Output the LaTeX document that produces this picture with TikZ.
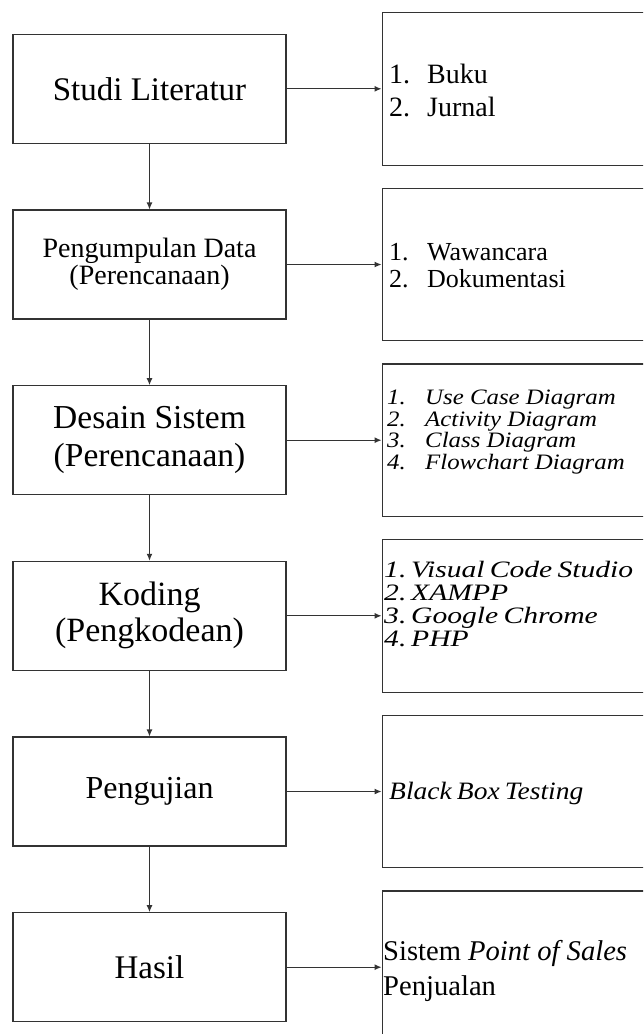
\documentclass[tikz,border=0pt]{standalone}
\usepackage{fontspec}
\setmainfont{Liberation Serif}
\newfontfamily\listserif[FakeStretch=1.13]{Liberation Serif}
\newfontfamily\toolserif[FakeStretch=1.26,WordSpace=0.7]{Liberation Serif}
\newfontfamily\testserif[FakeStretch=1.1,WordSpace=0.75]{Liberation Serif}
\usetikzlibrary{arrows.meta}

\newcommand{\numitem}[2]{\makebox[#1][l]{#2}}

\begin{document}
\begin{tikzpicture}[x=1pt,y=-1pt,
  stage/.style={draw=black!80, line width=1.1pt, minimum width=273pt,
    minimum height=109pt, inner sep=0pt, align=center},
  detail/.style={draw=black!80, line width=1.1pt, minimum width=330pt,
    minimum height=152.5pt, anchor=west, inner sep=0pt},
  flow/.style={draw=black!80, line width=1.1pt, -{Latex[length=7pt,width=6pt]}},
  itemtext/.style={anchor=west, inner sep=0pt, align=left}]

  \useasboundingbox (0,0) rectangle (643,1034);
  \clip (0,0) rectangle (643,1034);
  \fill[white] (0,0) rectangle (643,1034);

  % process steps (left column)
  \node[stage, font=\fontsize{33}{38}\selectfont] (s1) at (149.5,88.8) {Studi Literatur};
  \node[stage, font=\fontsize{28}{27.5}\selectfont] (s2) at (149.5,264.5) {Pengumpulan Data\\(Perencanaan)};
  \node[stage, font=\fontsize{33.5}{38.3}\selectfont] (s3) at (149.5,440.2) {Desain Sistem\\(Perencanaan)};
  \node[stage, font=\fontsize{34}{36}\selectfont] (s4) at (149.5,615.8) {Koding\\(Pengkodean)};
  \node[stage, font=\fontsize{32}{36}\selectfont] (s5) at (149.5,791.5) {Pengujian};
  \node[stage, font=\fontsize{33}{38}\selectfont] (s6) at (149.5,967.2) {Hasil};

  % detail boxes (right column)
  \node[detail] (d1) at (381.5,88.8) {};
  \node[detail] (d2) at (381.5,264.5) {};
  \node[detail] (d3) at (381.5,440.2) {};
  \node[detail] (d4) at (381.5,615.8) {};
  \node[detail] (d5) at (381.5,791.5) {};
  \node[detail] (d6) at (381.5,967.2) {};

  % texts inside the detail boxes
  \node[itemtext, font=\fontsize{28}{33}\selectfont] (d1t) at (389,90)
    {\numitem{38pt}{1.}Buku\\\numitem{38pt}{2.}Jurnal};
  \node[itemtext, font=\fontsize{26}{27}\selectfont] (d2t) at (389,266)
    {\numitem{38pt}{1.}Wawancara\\\numitem{38pt}{2.}Dokumentasi};
  \node[itemtext, font=\listserif\itshape\fontsize{22}{21.7}\selectfont] (d3t) at (387,432)
    {\numitem{38pt}{1.}Use Case Diagram\\
     \numitem{38pt}{2.}Activity Diagram\\
     \numitem{38pt}{3.}Class Diagram\\
     \numitem{38pt}{4.}Flowchart Diagram};
  \node[itemtext, font=\toolserif\itshape\fontsize{23.5}{22.8}\selectfont] (d4t) at (384,604)
    {\numitem{27pt}{1.}Visual Code Studio\\
     \numitem{27pt}{2.}XAMPP\\
     \numitem{27pt}{3.}Google Chrome\\
     \numitem{27pt}{4.}PHP};
  \node[itemtext, font=\testserif\itshape\fontsize{25}{27}\selectfont] (d5t) at (389,793)
    {Black Box Testing};
  \node[itemtext, font=\fontsize{28.6}{35}\selectfont] (d6t) at (383,971)
    {Sistem \textit{Point of Sales}\\Penjualan};

  % connectors
  \foreach \i/\j in {1/2,2/3,3/4,4/5,5/6}
    \draw[flow] (s\i.south) -- (s\j.north);
  \foreach \i in {1,...,6}
    \draw[flow] (s\i.east) -- (d\i.west);
\end{tikzpicture}
\end{document}
